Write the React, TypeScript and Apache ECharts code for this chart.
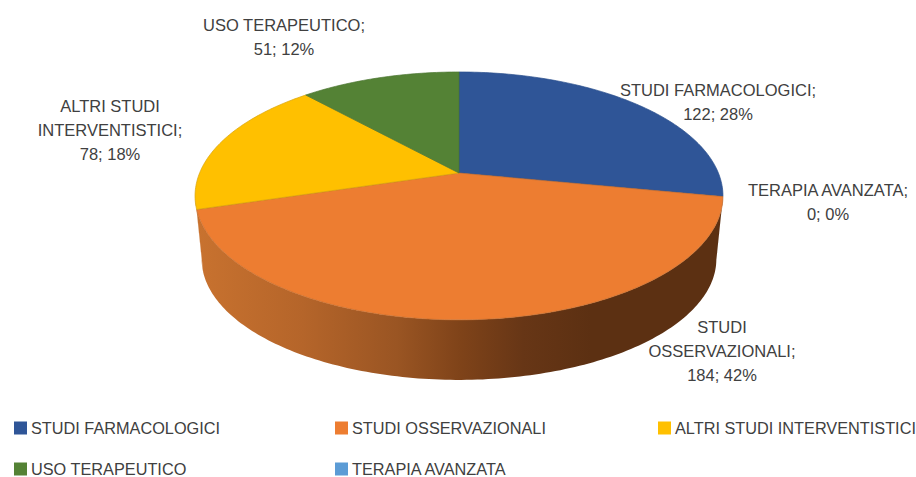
import React, { useEffect, useRef } from "react";
import * as echarts from "echarts";

const categories = [
  "STUDI FARMACOLOGICI",
  "STUDI OSSERVAZIONALI",
  "ALTRI STUDI INTERVENTISTICI",
  "USO TERAPEUTICO",
  "TERAPIA AVANZATA",
];
const values = [122, 184, 78, 51, 0];
const percents = ["28%", "42%", "18%", "12%", "0%"];
const colors = ["#2F5597", "#ED7D31", "#FFC000", "#548235", "#5B9BD5"];
const strokes = ["#2a4f8c", "#c46c2b", "#d9a40c", "#4a7530", "#5B9BD5"];
const labelLines = [
  ["STUDI FARMACOLOGICI;"],
  ["STUDI", "OSSERVAZIONALI;"],
  ["ALTRI STUDI", "INTERVENTISTICI;"],
  ["USO TERAPEUTICO;"],
  ["TERAPIA AVANZATA;"],
];

// layout (not data)
const APEX = { x: 459, y: 173 };
const K = 0.185;
const AX = 259.4;
const AY = 119.7;
const BASE_SCALE = 0.975;
const DEPTH = 63.7;
const FONT = "'Liberation Sans', sans-serif";
const TEXT_COLOR = "#404040";
const labelCenters = [
  [718, 90],
  [722, 327],
  [110, 106],
  [284, 25],
  [828, 190],
];
const LINE_H = 24;
const legendBoxes = [
  [14, 420],
  [335, 420],
  [658, 420],
  [14, 461],
  [335, 461],
];

const total = values.reduce((a, b) => a + b, 0);
const starts: number[] = [];
values.reduce((acc, v, i) => {
  starts[i] = acc;
  return acc + (v / total) * 360;
}, 0);

function pt(deg: number, scale = 1, dy = 0): number[] {
  const t = (deg * Math.PI) / 180;
  const den = 1 + K * Math.cos(t);
  return [
    APEX.x + (scale * AX * Math.sin(t)) / den,
    APEX.y - (scale * AY * Math.cos(t)) / den + dy,
  ];
}

function arc(a: number, b: number, scale = 1, dy = 0): number[][] {
  const out: number[][] = [];
  const n = Math.max(2, Math.ceil(Math.abs(b - a)));
  for (let i = 0; i <= n; i++) out.push(pt(a + ((b - a) * i) / n, scale, dy));
  return out;
}

const TANGENT_A = 100.7;
const TANGENT_B = 259.3;

const orangeSide = () =>
  new echarts.graphic.LinearGradient(
    197,
    0,
    723,
    0,
    [
      { offset: 0, color: "#c8722f" },
      { offset: 0.2, color: "#b5652a" },
      { offset: 0.38, color: "#9a5523" },
      { offset: 0.5, color: "#7f4319" },
      { offset: 0.62, color: "#673616" },
      { offset: 0.75, color: "#5c3012" },
      { offset: 1, color: "#5c3012" },
    ],
    true
  );

export default function App() {
  const ref = useRef<HTMLDivElement>(null);
  useEffect(() => {
    const chart = echarts.init(ref.current!, undefined, { renderer: "svg" });

    const sides = {
      type: "custom",
      name: "sides",
      coordinateSystem: "none",
      silent: true,
      z: 1,
      data: values.map((v, i) => [starts[i], starts[i] + (v / total) * 360]),
      renderItem: (_p: any, api: any) => {
        const a = Math.max(api.value(0), TANGENT_A);
        const b = Math.min(api.value(1), TANGENT_B);
        if (b <= a) return { type: "group", children: [] };
        const top = arc(a, b);
        const bottom = arc(b, a, BASE_SCALE, DEPTH);
        return {
          type: "polygon",
          shape: { points: top.concat(bottom) },
          style: { fill: orangeSide(), stroke: "none" },
        };
      },
    };

    const slices = categories.map((name, i) => ({
      type: "custom",
      name,
      coordinateSystem: "none",
      silent: true,
      z: 2,
      itemStyle: { color: colors[i] },
      data: [[starts[i], starts[i] + (values[i] / total) * 360]],
      renderItem: (_p: any, api: any) => {
        const a = api.value(0);
        const b = api.value(1);
        const children: any[] = [];
        if (b > a) {
          children.push({
            type: "polygon",
            shape: { points: [[APEX.x, APEX.y]].concat(arc(a, b)) },
            style: { fill: colors[i], stroke: strokes[i], lineWidth: 0.7, lineJoin: "round" },
          });
        }
        const lines = labelLines[i].concat(`${values[i]}; ${percents[i]}`);
        lines.forEach((line, j) => {
          children.push({
            type: "text",
            x: labelCenters[i][0],
            y: labelCenters[i][1] + j * LINE_H,
            style: {
              text: line,
              fill: TEXT_COLOR,
              font: `16.5px ${FONT}`,
              align: "center",
              verticalAlign: "middle",
            },
          });
        });
        return { type: "group", children };
      },
    }));

    chart.setOption({
      animation: false,
      backgroundColor: "#ffffff",
      legend: categories.map((name, i) => ({
        data: [name],
        left: legendBoxes[i][0],
        top: legendBoxes[i][1],
        padding: 0,
        itemWidth: 13,
        itemHeight: 13,
        itemGap: 0,
        icon: "rect",
        selectedMode: false,
        textStyle: {
          color: TEXT_COLOR,
          fontFamily: FONT,
          fontSize: 16.3,
          lineHeight: 14,
          padding: [0, 0, 0, -1],
        },
      })),
      series: [sides, ...slices],
    });
    return () => chart.dispose();
  }, []);
  return (
    <div
      ref={ref}
      style={{ position: "fixed", left: 0, top: 0, width: 916, height: 477 }}
    />
  );
}
